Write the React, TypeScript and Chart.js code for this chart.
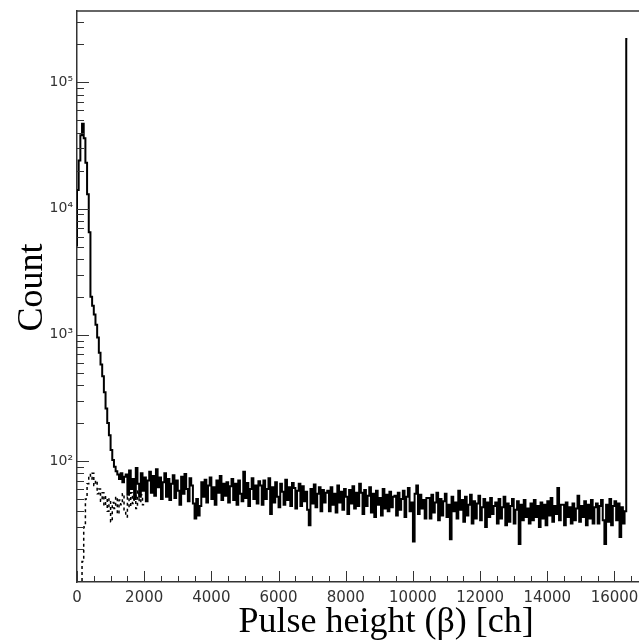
import React, { useEffect, useRef } from 'react';
import { Chart, registerables } from 'chart.js';

Chart.register(...registerables);

// ---------- data ----------
const BIN_WIDTH = 50; // channels per bin

// solid spectrum, peak region (bins starting at channel 0)
const PEAK_START = 0;
const peakCounts = [
  5000, 14000, 24000, 38000, 47000, 36000, 23000, 13000, 6500, 2000,
  1700, 1450, 1200, 950, 720, 580, 470, 350, 260, 200,
  160, 122, 102, 90, 83, 78, 72, 80, 68, 75,
];

// solid spectrum, flat background (bins starting at channel 1500)
const BACKGROUND_START = 1500;
const backgroundCounts = [
  78, 54, 84, 60, 72, 50, 88, 66, 52, 80, 58, 74, 48, 70, 82, 56, 76, 53, 86, 62,
  74, 50, 68, 80, 52, 72, 49, 66, 77, 51, 70, 58, 45, 75, 55, 79, 60, 48, 73, 64,
  46, 35, 50, 37, 44, 68, 52, 71, 47, 64, 74, 50, 62, 45, 70, 56, 76, 49, 66, 53,
  68, 47, 63, 72, 49, 66, 45, 70, 55, 48, 82, 51, 67, 44, 60, 73, 50, 64, 46, 69,
  64, 45, 70, 50, 60, 73, 38, 62, 47, 68, 52, 43, 66, 57, 45, 71, 49, 62, 44, 67,
  61, 42, 58, 66, 44, 63, 48, 57, 41, 31, 60, 46, 65, 43, 55, 62, 40, 59, 47, 56,
  58, 40, 62, 45, 55, 39, 64, 47, 57, 41, 60, 52, 38, 59, 46, 63, 42, 56, 44, 66,
  56, 38, 59, 44, 53, 62, 39, 55, 36, 58, 45, 51, 37, 60, 42, 54, 40, 57, 43, 52,
  53, 37, 56, 41, 50, 58, 36, 52, 61, 40, 47, 23, 55, 64, 38, 54, 42, 49, 35, 51,
  51, 35, 54, 39, 47, 56, 34, 50, 37, 48, 55, 36, 45, 24, 52, 40, 47, 35, 58, 41,
  49, 33, 52, 37, 45, 54, 32, 48, 35, 46, 53, 34, 43, 50, 30, 47, 36, 51, 38, 44,
  47, 32, 50, 35, 43, 52, 31, 46, 33, 44, 50, 32, 41, 48, 22, 45, 34, 49, 36, 42,
  32, 46, 34, 49, 36, 44, 30, 47, 35, 45, 31, 48, 37, 51, 33, 44, 38, 61, 34, 45,
  45, 31, 47, 36, 43, 32, 46, 34, 42, 53, 33, 44, 36, 48, 31, 45, 35, 49, 32, 43,
  46, 32, 44, 49, 34, 22, 45, 33, 50, 31, 44, 48, 34, 46, 25, 43, 32, 40,
];

// overflow channel
const OVERFLOW_CHANNEL = 16383;
const overflowCount = 220000;
const HISTOGRAM_END = 16384;

// dashed spectrum (bins starting at channel 150)
const DASHED_START = 150;
const dashedCounts = [
  9, 16, 30, 50, 66, 78, 72, 80, 64, 70,
  55, 60, 48, 56, 44, 52, 40, 50, 33, 47,
  42, 52, 38, 49, 45, 55, 41, 36, 52, 43,
  56, 46, 53, 42, 58, 47, 54, 45,
];

// axes
const X_MIN = 0;
const X_MAX = 16700;
const Y_MIN = 11;
const Y_MAX = 367000;
const xMajorTicks = [0, 2000, 4000, 6000, 8000, 10000, 12000, 14000, 16000];
const yDecadeTicks = [100, 1000, 10000, 100000];
const yTickLabels = ['10²', '10³', '10⁴', '10⁵'];
const X_TITLE = 'Pulse height (β) [ch]';
const Y_TITLE = 'Count';

// ---------- build series ----------
const solidPoints = [
  ...peakCounts.map((c, i) => ({ x: PEAK_START + i * BIN_WIDTH, y: c })),
  ...backgroundCounts.map((c, i) => ({ x: BACKGROUND_START + i * BIN_WIDTH, y: c })),
  { x: OVERFLOW_CHANNEL, y: overflowCount },
  { x: HISTOGRAM_END, y: 0 },
];
const dashedPoints = dashedCounts.map((c, i) => ({ x: DASHED_START + i * BIN_WIDTH, y: c }));

const AXIS_COLOR = '#333';
const LABEL_COLOR = '#333';

const framePlugin = {
  id: 'rootFrame',
  afterDraw(chart: any) {
    const { ctx, chartArea } = chart;
    const { left, right, top, bottom } = chartArea;
    const xs = chart.scales.x;
    const ys = chart.scales.y;
    ctx.save();
    // top frame line
    ctx.strokeStyle = AXIS_COLOR;
    ctx.lineWidth = 1.5;
    ctx.beginPath();
    ctx.moveTo(left, top);
    ctx.lineTo(right + 1, top);
    ctx.stroke();
    // inward ticks
    ctx.lineWidth = 1;
    ctx.beginPath();
    for (let v = 0; v <= xs.max; v += 500) {
      const px = Math.round(xs.getPixelForValue(v)) + 0.5;
      const len = v % 2000 === 0 ? 11 : 6;
      ctx.moveTo(px, bottom);
      ctx.lineTo(px, bottom - len);
    }
    for (let d = 1; d <= 1e6; d *= 10) {
      for (let k = 1; k <= 9; k++) {
        const v = k * d;
        if (v < ys.min || v > ys.max) continue;
        const py = Math.round(ys.getPixelForValue(v)) + 0.5;
        const len = k === 1 ? 12 : 7;
        ctx.moveTo(left, py);
        ctx.lineTo(left + len, py);
      }
    }
    ctx.stroke();
    // axis titles
    ctx.fillStyle = '#000';
    ctx.font = '36px "Liberation Serif", "Times New Roman", serif';
    ctx.textAlign = 'center';
    ctx.textBaseline = 'alphabetic';
    ctx.fillText(X_TITLE, left + 0.551 * (right - left), 632);
    ctx.translate(41.5, (top + bottom) / 2 - 9);
    ctx.rotate(-Math.PI / 2);
    ctx.fillText(Y_TITLE, 0, 0);
    ctx.restore();
  },
};

export default function App() {
  const ref = useRef<HTMLCanvasElement>(null);
  useEffect(() => {
    document.body.style.margin = '0';
    document.body.style.overflow = 'hidden';
    const chart = new Chart(ref.current as HTMLCanvasElement, {
      type: 'line',
      data: {
        datasets: [
          {
            label: 'solid',
            data: solidPoints,
            borderColor: '#000',
            borderWidth: 2,
            pointRadius: 0,
            stepped: 'after',
            fill: false,
            order: 0,
          },
          {
            label: 'dashed',
            data: dashedPoints,
            borderColor: '#000',
            borderWidth: 1.5,
            borderDash: [3, 3],
            pointRadius: 0,
            stepped: 'after',
            fill: false,
            order: 1,
          },
        ],
      },
      options: {
        animation: false,
        responsive: false,
        layout: { padding: { top: 11, right: 1, left: 0, bottom: 0 } },
        plugins: { legend: { display: false }, tooltip: { enabled: false } },
        scales: {
          x: {
            type: 'linear',
            min: X_MIN,
            max: X_MAX,
            afterBuildTicks: (scale: any) => {
              scale.ticks = xMajorTicks.map((v) => ({ value: v }));
            },
            afterFit: (scale: any) => {
              scale.height = 61;
              scale.paddingLeft = 0;
              scale.paddingRight = 0;
            },
            ticks: {
              padding: 7,
              maxRotation: 0,
              autoSkip: false,
              color: LABEL_COLOR,
              font: { family: '"DejaVu Sans", sans-serif', size: 15 },
              callback: (v: any) => String(v),
            },
            grid: { display: true, drawOnChartArea: false, drawTicks: false },
            border: { display: true, color: AXIS_COLOR, width: 1.5 },
          },
          y: {
            type: 'logarithmic',
            min: Y_MIN,
            max: Y_MAX,
            afterBuildTicks: (scale: any) => {
              scale.ticks = yDecadeTicks.map((v) => ({ value: v }));
            },
            afterFit: (scale: any) => {
              scale.width = 77;
              scale.paddingTop = 0;
              scale.paddingBottom = 0;
            },
            ticks: {
              padding: 4,
              autoSkip: false,
              color: LABEL_COLOR,
              font: { family: '"DejaVu Sans", sans-serif', size: 14 },
              callback: (v: any) => {
                const idx = yDecadeTicks.indexOf(Number(v));
                return idx >= 0 ? yTickLabels[idx] : '';
              },
            },
            grid: { display: true, drawOnChartArea: false, drawTicks: false },
            border: { display: true, color: AXIS_COLOR, width: 1.5 },
          },
        },
      },
      plugins: [framePlugin],
    } as any);
    return () => chart.destroy();
  }, []);
  return (
    <div style={{ width: 639, height: 643, background: '#fff' }}>
      <canvas ref={ref} width={639} height={643} style={{ display: 'block' }} />
    </div>
  );
}
